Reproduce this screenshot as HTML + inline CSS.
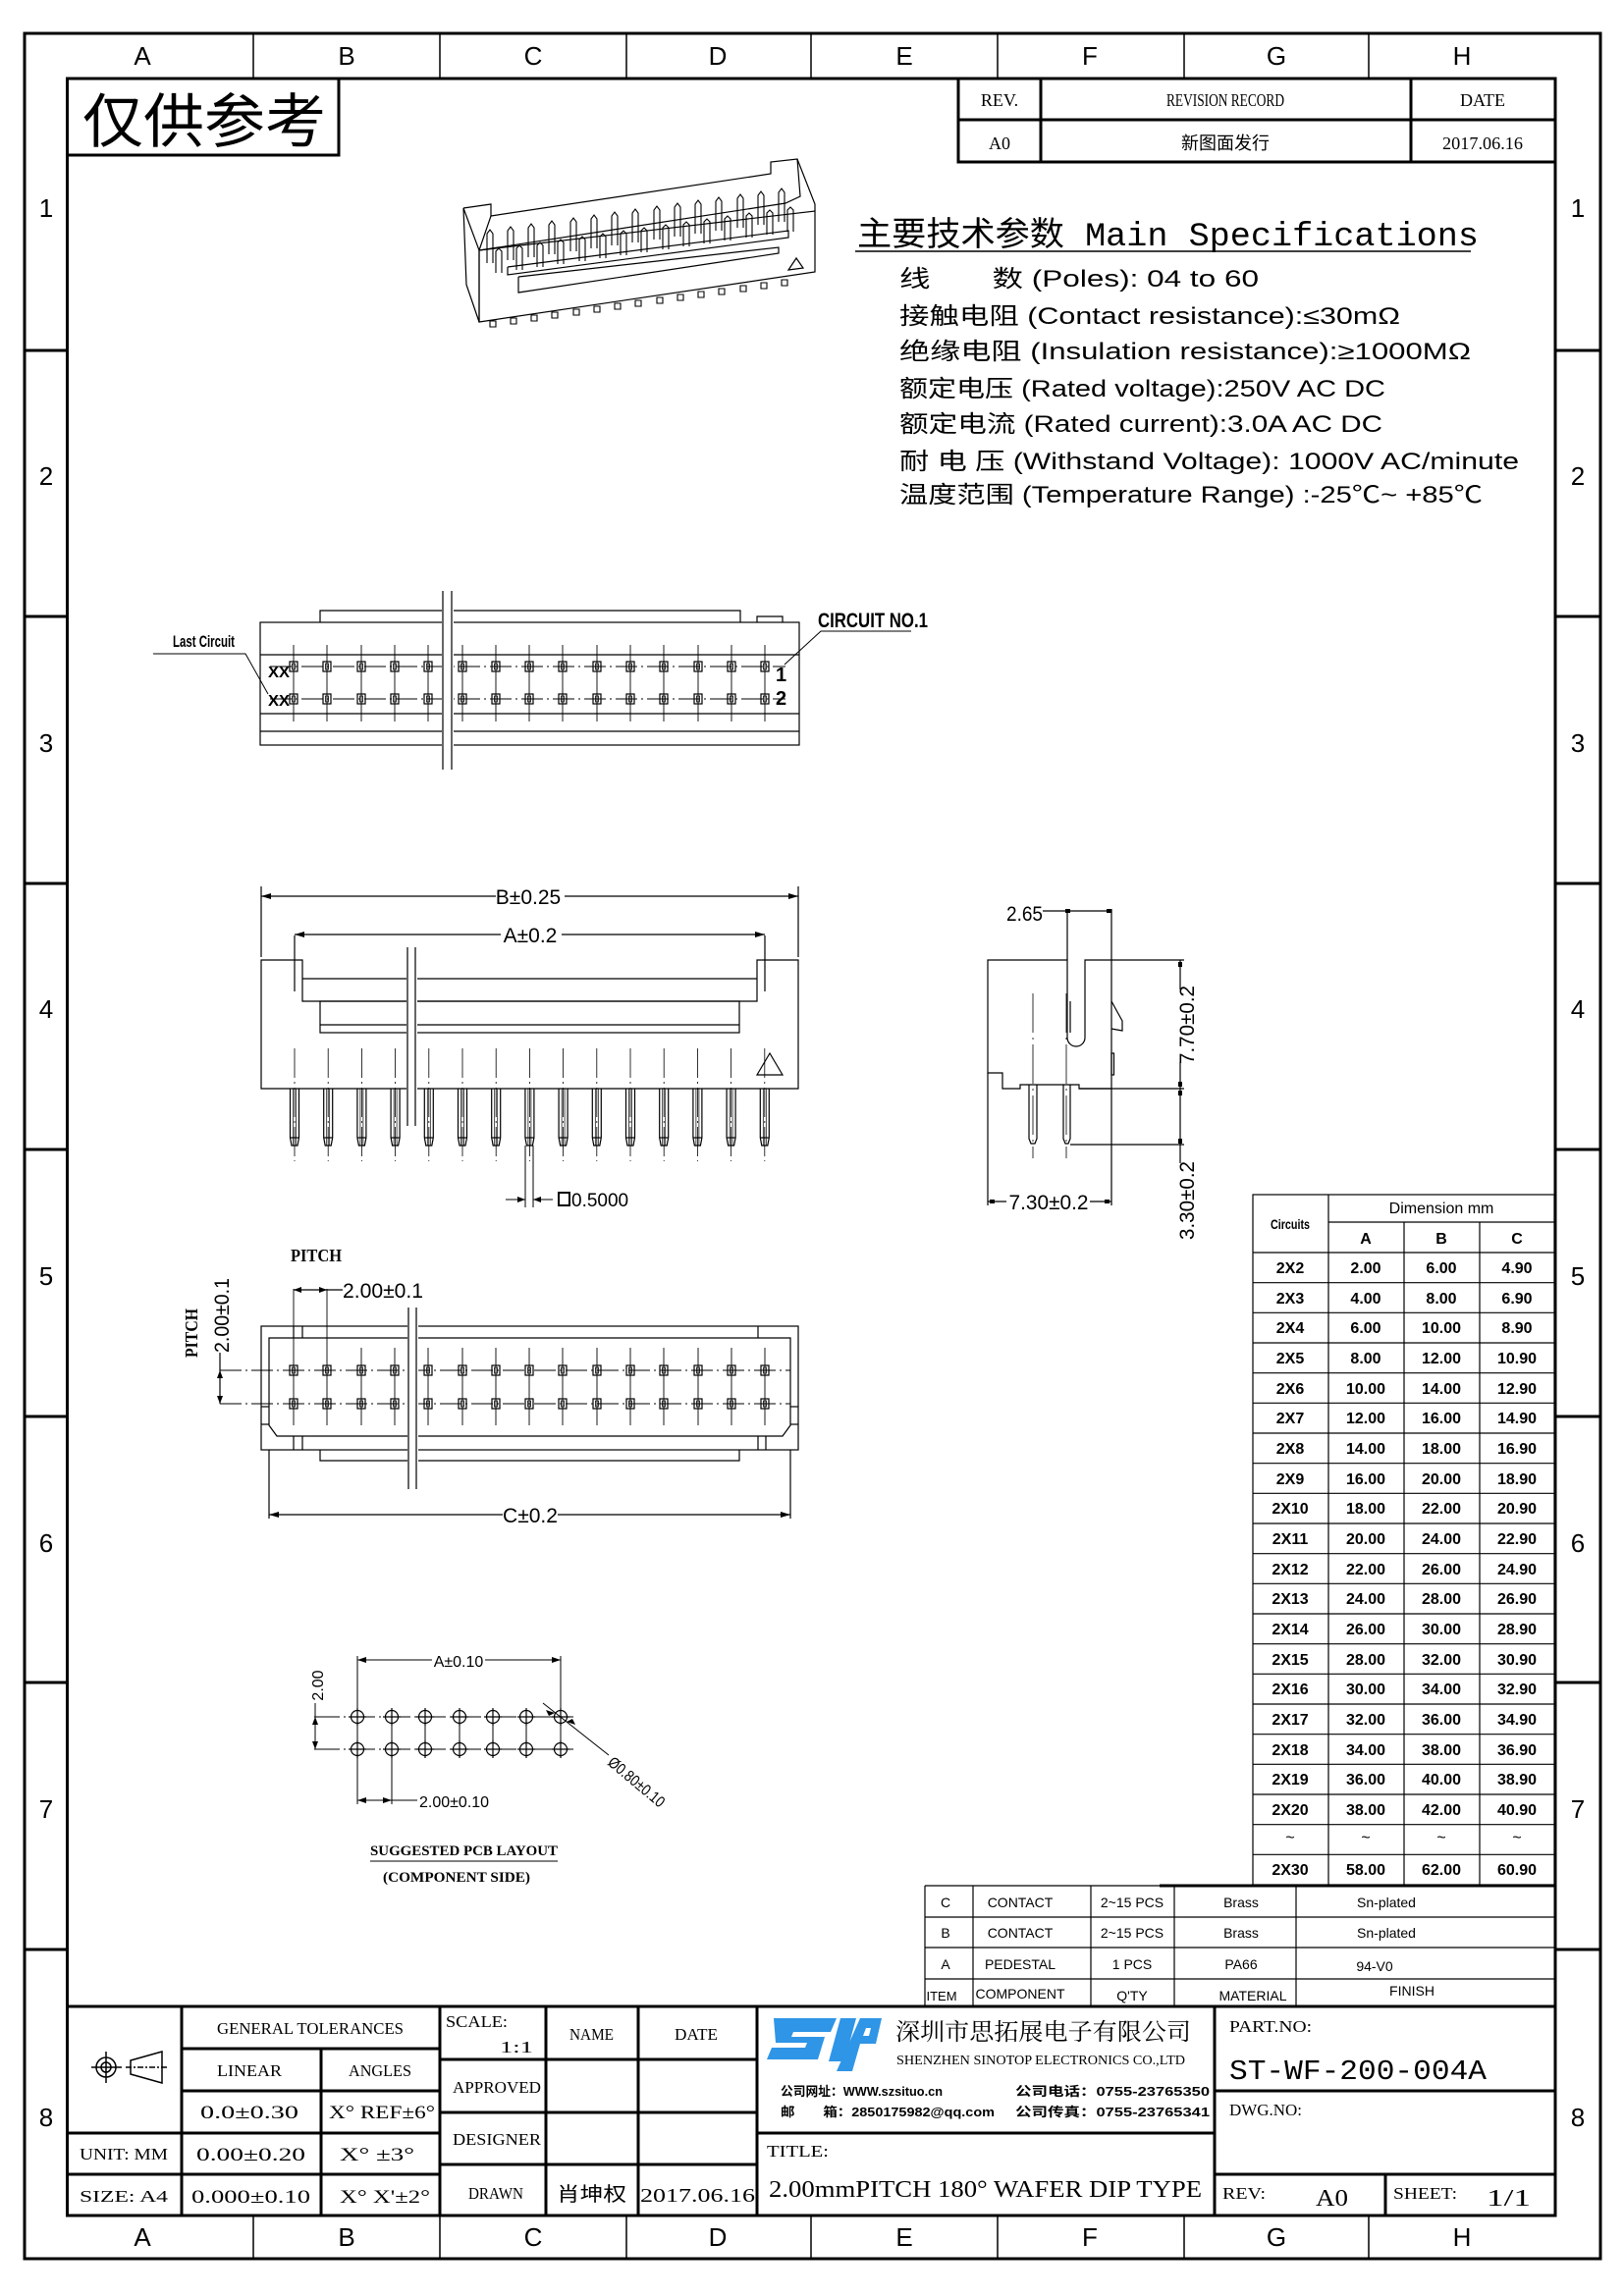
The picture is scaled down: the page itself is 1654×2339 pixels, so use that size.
<!DOCTYPE html>
<html><head><meta charset="utf-8"><style>
html,body{margin:0;padding:0;background:#fff;}
svg{display:block;}
text{font-family:"Liberation Sans Narrow","Liberation Sans","Noto Sans CJK SC",sans-serif;fill:#000;}
.s,.s text{font-family:"Liberation Serif","Noto Serif CJK SC","Noto Sans CJK SC",serif;}
.b,.b text{font-weight:bold;}
</style></head><body>
<svg width="1654" height="2339" viewBox="0 0 1654 2339" xmlns="http://www.w3.org/2000/svg">
<defs>
<g id="tp"><rect x="-4" y="-5" width="8" height="10" fill="none" stroke="#000" stroke-width="1.2"/><rect x="-1.5" y="-3" width="3" height="6" fill="none" stroke="#000" stroke-width="0.8"/></g>
<g id="fp" fill="none" stroke="#000" stroke-width="1.2"><path d="M-4.5,0 V50 L-3,58 H3 L4.5,50 V0"/><line x1="-4.5" y1="50" x2="4.5" y2="50"/><line x1="-1.5" y1="0" x2="-1.5" y2="58" stroke-width="0.7"/><line x1="1.5" y1="0" x2="1.5" y2="58" stroke-width="0.7"/><line x1="0" y1="-41" x2="0" y2="74" stroke-width="0.8" stroke-dasharray="30,4,2,4"/></g>
<g id="hole" fill="none" stroke="#000" stroke-width="1.2"><circle r="6.5"/><line x1="-9" y1="0" x2="9" y2="0"/><line x1="0" y1="-9" x2="0" y2="9"/></g>
<g id="isop" fill="none" stroke="#000" stroke-width="1.1"><path d="M-3,0 V-30 L0,-34 L3,-30 V0"/><path d="M6,10 V-12 L9,-15 L12,-12 V10"/></g>
<g id="isot" fill="none" stroke="#000" stroke-width="1.1"><path d="M-3,0 V6 H3 V0 Z"/></g>
</defs>

<rect x="25" y="34" width="1605" height="2267" fill="none" stroke="#000" stroke-width="3"/>
<rect x="68.5" y="80" width="1515.5" height="2177" fill="none" stroke="#000" stroke-width="3"/>
<g stroke="#000" stroke-width="1.5">
<line x1="258" y1="34" x2="258" y2="80"/><line x1="448" y1="34" x2="448" y2="80"/><line x1="638" y1="34" x2="638" y2="80"/><line x1="826" y1="34" x2="826" y2="80"/><line x1="1016" y1="34" x2="1016" y2="80"/><line x1="1206" y1="34" x2="1206" y2="80"/><line x1="1394" y1="34" x2="1394" y2="80"/>
<line x1="258" y1="2257" x2="258" y2="2301"/><line x1="448" y1="2257" x2="448" y2="2301"/><line x1="638" y1="2257" x2="638" y2="2301"/><line x1="826" y1="2257" x2="826" y2="2301"/><line x1="1016" y1="2257" x2="1016" y2="2301"/><line x1="1206" y1="2257" x2="1206" y2="2301"/><line x1="1394" y1="2257" x2="1394" y2="2301"/>
</g>
<g stroke="#000" stroke-width="3">
<line x1="25" y1="357" x2="68" y2="357"/><line x1="25" y1="628" x2="68" y2="628"/><line x1="25" y1="900" x2="68" y2="900"/><line x1="25" y1="1171" x2="68" y2="1171"/><line x1="25" y1="1443" x2="68" y2="1443"/><line x1="25" y1="1714" x2="68" y2="1714"/><line x1="25" y1="1986" x2="68" y2="1986"/>
<line x1="1584" y1="357" x2="1630" y2="357"/><line x1="1584" y1="628" x2="1630" y2="628"/><line x1="1584" y1="900" x2="1630" y2="900"/><line x1="1584" y1="1171" x2="1630" y2="1171"/><line x1="1584" y1="1443" x2="1630" y2="1443"/><line x1="1584" y1="1714" x2="1630" y2="1714"/><line x1="1584" y1="1986" x2="1630" y2="1986"/>
</g>
<g font-size="26" text-anchor="middle">
<text x="145" y="66">A</text><text x="353" y="66">B</text><text x="543" y="66">C</text><text x="731" y="66">D</text><text x="921" y="66">E</text><text x="1110" y="66">F</text><text x="1300" y="66">G</text><text x="1489" y="66">H</text>
<text x="145" y="2288">A</text><text x="353" y="2288">B</text><text x="543" y="2288">C</text><text x="731" y="2288">D</text><text x="921" y="2288">E</text><text x="1110" y="2288">F</text><text x="1300" y="2288">G</text><text x="1489" y="2288">H</text>
<text x="47" y="221">1</text><text x="47" y="494">2</text><text x="47" y="766">3</text><text x="47" y="1037">4</text><text x="47" y="1309">5</text><text x="47" y="1581">6</text><text x="47" y="1852">7</text><text x="47" y="2166">8</text>
<text x="1607" y="221">1</text><text x="1607" y="494">2</text><text x="1607" y="766">3</text><text x="1607" y="1037">4</text><text x="1607" y="1309">5</text><text x="1607" y="1581">6</text><text x="1607" y="1852">7</text><text x="1607" y="2166">8</text>
</g>

<rect x="68.5" y="80" width="276.5" height="78" fill="none" stroke="#000" stroke-width="3"/>
<text x="84" y="145" font-size="60" textLength="248" lengthAdjust="spacingAndGlyphs" style="font-family:'Noto Sans CJK SC',sans-serif">仅供参考</text>

<g stroke="#000" stroke-width="3" fill="none">
<polyline points="976,80 976,165 1584,165"/>
<line x1="976" y1="122" x2="1584" y2="122"/>
<line x1="1060" y1="80" x2="1060" y2="165"/>
<line x1="1437" y1="80" x2="1437" y2="165"/>
</g>
<g class="s" font-size="18" text-anchor="middle">
<text x="1018" y="108">REV.</text>
<text x="1248" y="108" textLength="120" lengthAdjust="spacingAndGlyphs">REVISION RECORD</text>
<text x="1510" y="108">DATE</text>
<text x="1018" y="152">A0</text>
<text x="1248" y="152" style="font-family:'Noto Sans CJK SC',sans-serif">新图面发行</text>
<text x="1510" y="152" textLength="82" lengthAdjust="spacingAndGlyphs">2017.06.16</text>
</g>

<g fill="none" stroke="#000" stroke-width="1.2">
<polygon points="472,212 488,255 488,328 475,290"/>
<polygon points="488,255 830,215 830,277 488,328"/>
<polyline points="472,212 500,208 500,220 785,177 785,165 812,162 830,208 830,215"/>
<polyline points="812,162 815,200 800,207 488,255"/>
<line x1="500" y1="220" x2="488" y2="255"/>
<polyline points="517,272 803,235 803,242 517,280 517,272"/>
<polyline points="528,282 793,252 793,258 528,298 528,282"/>
<polygon points="803,275 818,273 811,263"/>
</g>
<g>
<use href="#isop" x="499" y="268"/><use href="#isop" x="520" y="265"/><use href="#isop" x="541" y="262"/><use href="#isop" x="562" y="259"/><use href="#isop" x="584" y="256"/><use href="#isop" x="605" y="253"/><use href="#isop" x="626" y="250"/><use href="#isop" x="647" y="247"/><use href="#isop" x="669" y="244"/><use href="#isop" x="690" y="241"/><use href="#isop" x="711" y="238"/><use href="#isop" x="732" y="235"/><use href="#isop" x="754" y="232"/><use href="#isop" x="775" y="229"/><use href="#isop" x="796" y="226"/>
<use href="#isot" x="502" y="327"/><use href="#isot" x="523" y="324"/><use href="#isot" x="544" y="321"/><use href="#isot" x="565" y="318"/><use href="#isot" x="587" y="315"/><use href="#isot" x="608" y="312"/><use href="#isot" x="629" y="309"/><use href="#isot" x="650" y="306"/><use href="#isot" x="672" y="303"/><use href="#isot" x="693" y="300"/><use href="#isot" x="714" y="297"/><use href="#isot" x="735" y="294"/><use href="#isot" x="757" y="291"/><use href="#isot" x="778" y="288"/><use href="#isot" x="799" y="285"/>
</g>

<text x="873" y="250" font-size="34" textLength="633" lengthAdjust="spacingAndGlyphs" style="font-family:'Liberation Mono','Noto Sans CJK SC',monospace">主要技术参数 Main Specifications</text>
<line x1="871" y1="256" x2="1498" y2="256" stroke="#000" stroke-width="1.5"/>
<g font-size="24" style="font-family:'Liberation Mono','Noto Sans CJK SC',monospace">
<text x="916" y="292" textLength="366" lengthAdjust="spacingAndGlyphs">线　　数 (Poles): 04 to 60</text>
<text x="916" y="330" textLength="510" lengthAdjust="spacingAndGlyphs">接触电阻 (Contact resistance):≤30mΩ</text>
<text x="916" y="366" textLength="582" lengthAdjust="spacingAndGlyphs">绝缘电阻 (Insulation resistance):≥1000MΩ</text>
<text x="916" y="404" textLength="495" lengthAdjust="spacingAndGlyphs">额定电压 (Rated voltage):250V AC DC</text>
<text x="916" y="440" textLength="492" lengthAdjust="spacingAndGlyphs">额定电流 (Rated current):3.0A AC DC</text>
<text x="916" y="478" textLength="631" lengthAdjust="spacingAndGlyphs">耐 电 压 (Withstand Voltage): 1000V AC/minute</text>
<text x="916" y="512" textLength="594" lengthAdjust="spacingAndGlyphs">温度范围 (Temperature Range) :-25℃~ +85℃</text>
</g>

<!-- TOP VIEW -->
<g fill="none" stroke="#000" stroke-width="1.2">
<rect x="265" y="634" width="549" height="125"/>
<polyline points="326,634 326,622 754,622 754,634"/>
<polyline points="771,634 771,628 797,628 797,634"/>
<line x1="265" y1="667" x2="814" y2="667"/>
<line x1="265" y1="727" x2="814" y2="727"/>
<line x1="265" y1="745" x2="814" y2="745"/>
<g stroke-width="0.9">
<line x1="275" y1="679" x2="800" y2="679" stroke-dasharray="22,4,2,4"/>
<line x1="275" y1="712" x2="800" y2="712" stroke-dasharray="22,4,2,4"/>
<line x1="299" y1="657" x2="299" y2="735"/><line x1="333" y1="657" x2="333" y2="735"/><line x1="368" y1="657" x2="368" y2="735"/><line x1="402" y1="657" x2="402" y2="735"/><line x1="436" y1="657" x2="436" y2="735"/><line x1="471" y1="657" x2="471" y2="735"/><line x1="505" y1="657" x2="505" y2="735"/><line x1="539" y1="657" x2="539" y2="735"/><line x1="573" y1="657" x2="573" y2="735"/><line x1="608" y1="657" x2="608" y2="735"/><line x1="642" y1="657" x2="642" y2="735"/><line x1="676" y1="657" x2="676" y2="735"/><line x1="711" y1="657" x2="711" y2="735"/><line x1="745" y1="657" x2="745" y2="735"/><line x1="779" y1="657" x2="779" y2="735"/>
</g>
</g>
<rect x="450" y="600" width="12" height="186" fill="#fff"/>
<g stroke="#000" stroke-width="1.2"><line x1="451" y1="602" x2="451" y2="784"/><line x1="460" y1="602" x2="460" y2="784"/></g>
<g>
<use href="#tp" x="299" y="679"/><use href="#tp" x="333" y="679"/><use href="#tp" x="368" y="679"/><use href="#tp" x="402" y="679"/><use href="#tp" x="436" y="679"/><use href="#tp" x="471" y="679"/><use href="#tp" x="505" y="679"/><use href="#tp" x="539" y="679"/><use href="#tp" x="573" y="679"/><use href="#tp" x="608" y="679"/><use href="#tp" x="642" y="679"/><use href="#tp" x="676" y="679"/><use href="#tp" x="711" y="679"/><use href="#tp" x="745" y="679"/><use href="#tp" x="779" y="679"/>
<use href="#tp" x="299" y="712"/><use href="#tp" x="333" y="712"/><use href="#tp" x="368" y="712"/><use href="#tp" x="402" y="712"/><use href="#tp" x="436" y="712"/><use href="#tp" x="471" y="712"/><use href="#tp" x="505" y="712"/><use href="#tp" x="539" y="712"/><use href="#tp" x="573" y="712"/><use href="#tp" x="608" y="712"/><use href="#tp" x="642" y="712"/><use href="#tp" x="676" y="712"/><use href="#tp" x="711" y="712"/><use href="#tp" x="745" y="712"/><use href="#tp" x="779" y="712"/>
</g>
<g font-size="16" class="b">
<text x="273" y="690" textLength="22" lengthAdjust="spacingAndGlyphs">XX</text>
<text x="273" y="719" textLength="22" lengthAdjust="spacingAndGlyphs">XX</text>
<text x="790" y="694" font-size="20">1</text>
<text x="790" y="718" font-size="20">2</text>
<text x="176" y="659" font-size="17" textLength="63" lengthAdjust="spacingAndGlyphs">Last Circuit</text>
<text x="833" y="639" font-size="21" textLength="112" lengthAdjust="spacingAndGlyphs">CIRCUIT NO.1</text>
</g>
<g fill="none" stroke="#000" stroke-width="1">
<polyline points="156,666 250,666 273,707"/>
<polyline points="928,643 836,643 799,677"/>
</g>

<!-- FRONT VIEW -->
<g fill="none" stroke="#000" stroke-width="1.2">
<line x1="266" y1="903" x2="266" y2="975"/><line x1="813" y1="903" x2="813" y2="975"/>
<line x1="266" y1="913" x2="505" y2="913"/><line x1="575" y1="913" x2="813" y2="913"/>
<line x1="300" y1="953" x2="300" y2="1010"/><line x1="779" y1="953" x2="779" y2="1010"/>
<line x1="300" y1="952" x2="510" y2="952"/><line x1="572" y1="952" x2="779" y2="952"/>
<polygon points="266,978 308,978 308,1020 771,1020 771,978 813,978 813,1109 266,1109"/>
<line x1="308" y1="997" x2="771" y2="997"/>
<rect x="326" y="1020" width="427" height="32"/>
<line x1="326" y1="1044" x2="753" y2="1044"/>
<polygon points="771,1095 797,1095 784,1073"/>
</g>
<g fill="#000"><path d="M266,913 l10,-3 v6z"/><path d="M813,913 l-10,-3 v6z"/><path d="M300,952 l10,-3 v6z"/><path d="M779,952 l-10,-3 v6z"/></g>
<text x="538" y="921" font-size="21" text-anchor="middle">B±0.25</text>
<text x="540" y="960" font-size="21" text-anchor="middle">A±0.2</text>
<g>
<use href="#fp" x="300" y="1109"/><use href="#fp" x="334.2" y="1109"/><use href="#fp" x="368.4" y="1109"/><use href="#fp" x="402.6" y="1109"/><use href="#fp" x="436.8" y="1109"/><use href="#fp" x="471" y="1109"/><use href="#fp" x="505.2" y="1109"/><use href="#fp" x="539.4" y="1109"/><use href="#fp" x="573.6" y="1109"/><use href="#fp" x="607.8" y="1109"/><use href="#fp" x="642" y="1109"/><use href="#fp" x="676.2" y="1109"/><use href="#fp" x="710.4" y="1109"/><use href="#fp" x="744.6" y="1109"/><use href="#fp" x="778.8" y="1109"/>
</g>
<rect x="414" y="964" width="11" height="185" fill="#fff"/>
<g stroke="#000" stroke-width="1.2"><line x1="415" y1="965" x2="415" y2="1147"/><line x1="423" y1="965" x2="423" y2="1147"/></g>
<g stroke="#000" stroke-width="1"><line x1="535" y1="1167" x2="535" y2="1230"/><line x1="543" y1="1167" x2="543" y2="1230"/><line x1="515" y1="1222" x2="535" y2="1222"/><line x1="543" y1="1222" x2="563" y2="1222"/></g>
<g fill="#000"><path d="M535,1222 l-8,-3 v6z"/><path d="M543,1222 l8,-3 v6z"/></g>
<rect x="569" y="1215" width="11" height="13" fill="none" stroke="#000" stroke-width="2"/>
<text x="582" y="1229" font-size="19">0.5000</text>

<!-- SIDE VIEW -->
<g fill="none" stroke="#000" stroke-width="1.2">
<path d="M1006,978 H1087 V1057 A9,9 0 0 0 1105,1057 V978 H1132 V1109 H1099 V1105 H1039 V1109 H1021 V1093 H1006 Z"/>
<line x1="1090" y1="1020" x2="1090" y2="1052"/>
<polyline points="1132,1020 1143,1040 1143,1050 1132,1048"/>
<rect x="1132" y="1073" width="2.5" height="22"/>
<path d="M1048,1105 V1160 L1050,1165 H1054 L1056,1160 V1105"/>
<path d="M1083,1105 V1160 L1085,1165 H1088 L1090,1160 V1105"/>
<line x1="1052" y1="1012" x2="1052" y2="1180" stroke-width="0.8" stroke-dasharray="40,5,2,5"/>
<line x1="1086" y1="1012" x2="1086" y2="1180" stroke-width="0.8" stroke-dasharray="40,5,2,5"/>
<line x1="1087" y1="926" x2="1087" y2="978"/><line x1="1132" y1="926" x2="1132" y2="978"/>
<line x1="1062" y1="928" x2="1132" y2="928"/>
<line x1="1132" y1="978" x2="1206" y2="978"/>
<line x1="1099" y1="1109" x2="1206" y2="1109"/>
<line x1="1090" y1="1166" x2="1206" y2="1166"/>
<line x1="1202" y1="978" x2="1202" y2="1008"/><line x1="1202" y1="1082" x2="1202" y2="1185"/>
<line x1="1006" y1="1093" x2="1006" y2="1228"/><line x1="1132" y1="1109" x2="1132" y2="1228"/>
<line x1="1006" y1="1224" x2="1025" y2="1224"/><line x1="1110" y1="1224" x2="1132" y2="1224"/>
</g>
<g fill="#000"><rect x="1085" y="926" width="5" height="4"/><rect x="1127" y="926" width="5" height="4"/><rect x="1200" y="980" width="4" height="5"/><rect x="1200" y="1102" width="4" height="5"/><rect x="1200" y="1111" width="4" height="5"/><rect x="1200" y="1160" width="4" height="5"/><rect x="1008" y="1222" width="5" height="4"/><rect x="1125" y="1222" width="5" height="4"/></g>
<text x="1025" y="938" font-size="21" textLength="37" lengthAdjust="spacingAndGlyphs">2.65</text>
<text x="1068" y="1232" font-size="21" text-anchor="middle" textLength="81" lengthAdjust="spacingAndGlyphs">7.30±0.2</text>
<text transform="translate(1216,1044) rotate(-90)" font-size="21" text-anchor="middle" textLength="80" lengthAdjust="spacingAndGlyphs">7.70±0.2</text>
<text transform="translate(1216,1223) rotate(-90)" font-size="21" text-anchor="middle" textLength="80" lengthAdjust="spacingAndGlyphs">3.30±0.2</text>

<!-- BOTTOM VIEW -->
<g fill="none" stroke="#000" stroke-width="1.2">
<rect x="266" y="1351" width="547" height="126"/>
<path d="M274,1363 H805 V1452 L797,1463 H282 L274,1452 Z"/>
<line x1="299" y1="1351" x2="299" y2="1363"/><line x1="308" y1="1351" x2="308" y2="1363"/>
<line x1="772" y1="1351" x2="772" y2="1363"/>
<line x1="299" y1="1463" x2="299" y2="1477"/><line x1="308" y1="1463" x2="308" y2="1477"/>
<line x1="772" y1="1463" x2="772" y2="1477"/><line x1="780" y1="1463" x2="780" y2="1477"/>
<polyline points="326,1477 326,1488 753,1488 753,1477"/>
<line x1="266" y1="1433" x2="274" y2="1433"/><line x1="266" y1="1451" x2="274" y2="1451"/>
<line x1="805" y1="1433" x2="813" y2="1433"/><line x1="805" y1="1451" x2="813" y2="1451"/>
<g stroke-width="0.9">
<line x1="224" y1="1396" x2="805" y2="1396" stroke-dasharray="22,4,2,4"/>
<line x1="224" y1="1430" x2="805" y2="1430" stroke-dasharray="22,4,2,4"/>
<line x1="299" y1="1313" x2="299" y2="1452"/><line x1="333" y1="1313" x2="333" y2="1452"/><line x1="368" y1="1373" x2="368" y2="1452"/><line x1="402" y1="1373" x2="402" y2="1452"/><line x1="436" y1="1373" x2="436" y2="1452"/><line x1="471" y1="1373" x2="471" y2="1452"/><line x1="505" y1="1373" x2="505" y2="1452"/><line x1="539" y1="1373" x2="539" y2="1452"/><line x1="573" y1="1373" x2="573" y2="1452"/><line x1="608" y1="1373" x2="608" y2="1452"/><line x1="642" y1="1373" x2="642" y2="1452"/><line x1="676" y1="1373" x2="676" y2="1452"/><line x1="711" y1="1373" x2="711" y2="1452"/><line x1="745" y1="1373" x2="745" y2="1452"/><line x1="779" y1="1373" x2="779" y2="1452"/>
</g>
<line x1="299" y1="1314" x2="349" y2="1314"/>
<line x1="224" y1="1378" x2="224" y2="1430"/>
<line x1="274" y1="1477" x2="274" y2="1547"/><line x1="805" y1="1477" x2="805" y2="1547"/>
<line x1="274" y1="1543" x2="512" y2="1543"/><line x1="568" y1="1543" x2="805" y2="1543"/>
</g>
<g fill="#000"><path d="M299,1314 l8,-3 v6z"/><path d="M333,1314 l-8,-3 v6z"/><path d="M224,1396 l-3,8 h6z"/><path d="M224,1430 l-3,-8 h6z"/><path d="M274,1543 l10,-3 v6z"/><path d="M805,1543 l-10,-3 v6z"/></g>
<g>
<use href="#tp" x="299" y="1396"/><use href="#tp" x="333" y="1396"/><use href="#tp" x="368" y="1396"/><use href="#tp" x="402" y="1396"/><use href="#tp" x="436" y="1396"/><use href="#tp" x="471" y="1396"/><use href="#tp" x="505" y="1396"/><use href="#tp" x="539" y="1396"/><use href="#tp" x="573" y="1396"/><use href="#tp" x="608" y="1396"/><use href="#tp" x="642" y="1396"/><use href="#tp" x="676" y="1396"/><use href="#tp" x="711" y="1396"/><use href="#tp" x="745" y="1396"/><use href="#tp" x="779" y="1396"/>
<use href="#tp" x="299" y="1430"/><use href="#tp" x="333" y="1430"/><use href="#tp" x="368" y="1430"/><use href="#tp" x="402" y="1430"/><use href="#tp" x="436" y="1430"/><use href="#tp" x="471" y="1430"/><use href="#tp" x="505" y="1430"/><use href="#tp" x="539" y="1430"/><use href="#tp" x="573" y="1430"/><use href="#tp" x="608" y="1430"/><use href="#tp" x="642" y="1430"/><use href="#tp" x="676" y="1430"/><use href="#tp" x="711" y="1430"/><use href="#tp" x="745" y="1430"/><use href="#tp" x="779" y="1430"/>
</g>
<rect x="415" y="1330" width="11" height="188" fill="#fff"/>
<g stroke="#000" stroke-width="1.2"><line x1="416" y1="1332" x2="416" y2="1517"/><line x1="424" y1="1332" x2="424" y2="1517"/></g>
<text x="296" y="1285" font-size="18" class="s b" textLength="52" lengthAdjust="spacingAndGlyphs">PITCH</text>
<text x="349" y="1322" font-size="21" textLength="82" lengthAdjust="spacingAndGlyphs">2.00±0.1</text>
<text transform="translate(233,1340) rotate(-90)" font-size="21" text-anchor="middle" textLength="76" lengthAdjust="spacingAndGlyphs">2.00±0.1</text>
<text transform="translate(201,1358) rotate(-90)" font-size="18" class="s b" text-anchor="middle" textLength="50" lengthAdjust="spacingAndGlyphs">PITCH</text>
<text x="540" y="1551" font-size="21" text-anchor="middle">C±0.2</text>

<!-- PCB LAYOUT -->
<g fill="none" stroke="#000" stroke-width="1">
<line x1="320" y1="1749" x2="584" y2="1749" stroke-dasharray="26,4,2,4"/>
<line x1="320" y1="1782" x2="584" y2="1782" stroke-dasharray="26,4,2,4"/>
<line x1="364" y1="1687" x2="364" y2="1838"/><line x1="399" y1="1740" x2="399" y2="1838"/><line x1="433" y1="1740" x2="433" y2="1790"/><line x1="468" y1="1740" x2="468" y2="1790"/><line x1="502" y1="1740" x2="502" y2="1790"/><line x1="536" y1="1740" x2="536" y2="1790"/><line x1="571" y1="1687" x2="571" y2="1790"/>
<line x1="364" y1="1691" x2="440" y2="1691"/><line x1="494" y1="1691" x2="571" y2="1691"/>
<line x1="321" y1="1735" x2="321" y2="1782"/>
<line x1="364" y1="1834" x2="425" y2="1834"/>
<line x1="553" y1="1735" x2="620" y2="1788"/>
</g>
<g fill="#000"><path d="M364,1691 l9,-3 v6z"/><path d="M571,1691 l-9,-3 v6z"/><path d="M321,1749 l-3,8 h6z"/><path d="M321,1782 l-3,-8 h6z"/><path d="M364,1834 l9,-3 v6z"/><path d="M399,1834 l-9,-3 v6z"/><path d="M565,1745 l-9,-3 l3,6z"/><path d="M577,1754 l9,3 l-3,-6z"/></g>
<g>
<use href="#hole" x="364" y="1749"/><use href="#hole" x="399" y="1749"/><use href="#hole" x="433" y="1749"/><use href="#hole" x="468" y="1749"/><use href="#hole" x="502" y="1749"/><use href="#hole" x="536" y="1749"/><use href="#hole" x="571" y="1749"/>
<use href="#hole" x="364" y="1782"/><use href="#hole" x="399" y="1782"/><use href="#hole" x="433" y="1782"/><use href="#hole" x="468" y="1782"/><use href="#hole" x="502" y="1782"/><use href="#hole" x="536" y="1782"/><use href="#hole" x="571" y="1782"/>
</g>
<text x="467" y="1698" font-size="16" text-anchor="middle">A±0.10</text>
<text transform="translate(329,1717) rotate(-90)" font-size="16" text-anchor="middle">2.00</text>
<text x="427" y="1841" font-size="16">2.00±0.10</text>
<text transform="translate(618,1797) rotate(40)" font-size="16" textLength="70" lengthAdjust="spacingAndGlyphs">Ø0.80±0.10</text>
<text x="377" y="1890" font-size="15" class="s b" textLength="191" lengthAdjust="spacingAndGlyphs">SUGGESTED PCB LAYOUT</text>
<line x1="377" y1="1896" x2="568" y2="1896" stroke="#000" stroke-width="1"/>
<text x="390" y="1917" font-size="15" class="s b" textLength="150" lengthAdjust="spacingAndGlyphs">(COMPONENT SIDE)</text>

<!-- DIMENSION TABLE -->
<g fill="none" stroke="#000" stroke-width="1.2">
<rect x="1276" y="1217" width="307" height="703"/>
<line x1="1353" y1="1217" x2="1353" y2="1920"/>
<line x1="1353" y1="1245" x2="1583" y2="1245"/>
<line x1="1430" y1="1245" x2="1430" y2="1920"/>
<line x1="1507" y1="1245" x2="1507" y2="1920"/>
<line x1="1276" y1="1276" x2="1583" y2="1276"/>
<line x1="1276" y1="1306.7" x2="1583" y2="1306.7"/><line x1="1276" y1="1337.3" x2="1583" y2="1337.3"/><line x1="1276" y1="1368" x2="1583" y2="1368"/><line x1="1276" y1="1398.7" x2="1583" y2="1398.7"/><line x1="1276" y1="1429.3" x2="1583" y2="1429.3"/><line x1="1276" y1="1460" x2="1583" y2="1460"/><line x1="1276" y1="1490.7" x2="1583" y2="1490.7"/><line x1="1276" y1="1521.3" x2="1583" y2="1521.3"/><line x1="1276" y1="1552" x2="1583" y2="1552"/><line x1="1276" y1="1582.7" x2="1583" y2="1582.7"/><line x1="1276" y1="1613.3" x2="1583" y2="1613.3"/><line x1="1276" y1="1644" x2="1583" y2="1644"/><line x1="1276" y1="1674.7" x2="1583" y2="1674.7"/><line x1="1276" y1="1705.3" x2="1583" y2="1705.3"/><line x1="1276" y1="1736" x2="1583" y2="1736"/><line x1="1276" y1="1766.7" x2="1583" y2="1766.7"/><line x1="1276" y1="1797.3" x2="1583" y2="1797.3"/><line x1="1276" y1="1828" x2="1583" y2="1828"/><line x1="1276" y1="1858.7" x2="1583" y2="1858.7"/><line x1="1276" y1="1889.3" x2="1583" y2="1889.3"/>
</g>
<g font-size="16" text-anchor="middle" font-weight="bold">
<text x="1468" y="1236" font-weight="normal" font-size="16">Dimension mm</text>
<text x="1314" y="1252" font-size="14" textLength="40" lengthAdjust="spacingAndGlyphs">Circuits</text>
<text x="1391" y="1267">A</text><text x="1468" y="1267">B</text><text x="1545" y="1267">C</text>
<text x="1314" y="1297">2X2</text><text x="1391" y="1297">2.00</text><text x="1468" y="1297">6.00</text><text x="1545" y="1297">4.90</text>
<text x="1314" y="1328">2X3</text><text x="1391" y="1328">4.00</text><text x="1468" y="1328">8.00</text><text x="1545" y="1328">6.90</text>
<text x="1314" y="1358">2X4</text><text x="1391" y="1358">6.00</text><text x="1468" y="1358">10.00</text><text x="1545" y="1358">8.90</text>
<text x="1314" y="1389">2X5</text><text x="1391" y="1389">8.00</text><text x="1468" y="1389">12.00</text><text x="1545" y="1389">10.90</text>
<text x="1314" y="1420">2X6</text><text x="1391" y="1420">10.00</text><text x="1468" y="1420">14.00</text><text x="1545" y="1420">12.90</text>
<text x="1314" y="1450">2X7</text><text x="1391" y="1450">12.00</text><text x="1468" y="1450">16.00</text><text x="1545" y="1450">14.90</text>
<text x="1314" y="1481">2X8</text><text x="1391" y="1481">14.00</text><text x="1468" y="1481">18.00</text><text x="1545" y="1481">16.90</text>
<text x="1314" y="1512">2X9</text><text x="1391" y="1512">16.00</text><text x="1468" y="1512">20.00</text><text x="1545" y="1512">18.90</text>
<text x="1314" y="1542">2X10</text><text x="1391" y="1542">18.00</text><text x="1468" y="1542">22.00</text><text x="1545" y="1542">20.90</text>
<text x="1314" y="1573">2X11</text><text x="1391" y="1573">20.00</text><text x="1468" y="1573">24.00</text><text x="1545" y="1573">22.90</text>
<text x="1314" y="1604">2X12</text><text x="1391" y="1604">22.00</text><text x="1468" y="1604">26.00</text><text x="1545" y="1604">24.90</text>
<text x="1314" y="1634">2X13</text><text x="1391" y="1634">24.00</text><text x="1468" y="1634">28.00</text><text x="1545" y="1634">26.90</text>
<text x="1314" y="1665">2X14</text><text x="1391" y="1665">26.00</text><text x="1468" y="1665">30.00</text><text x="1545" y="1665">28.90</text>
<text x="1314" y="1696">2X15</text><text x="1391" y="1696">28.00</text><text x="1468" y="1696">32.00</text><text x="1545" y="1696">30.90</text>
<text x="1314" y="1726">2X16</text><text x="1391" y="1726">30.00</text><text x="1468" y="1726">34.00</text><text x="1545" y="1726">32.90</text>
<text x="1314" y="1757">2X17</text><text x="1391" y="1757">32.00</text><text x="1468" y="1757">36.00</text><text x="1545" y="1757">34.90</text>
<text x="1314" y="1788">2X18</text><text x="1391" y="1788">34.00</text><text x="1468" y="1788">38.00</text><text x="1545" y="1788">36.90</text>
<text x="1314" y="1818">2X19</text><text x="1391" y="1818">36.00</text><text x="1468" y="1818">40.00</text><text x="1545" y="1818">38.90</text>
<text x="1314" y="1849">2X20</text><text x="1391" y="1849">38.00</text><text x="1468" y="1849">42.00</text><text x="1545" y="1849">40.90</text>
<text x="1314" y="1877" font-weight="normal">~</text><text x="1391" y="1877" font-weight="normal">~</text><text x="1468" y="1877" font-weight="normal">~</text><text x="1545" y="1877" font-weight="normal">~</text>
<text x="1314" y="1910">2X30</text><text x="1391" y="1910">58.00</text><text x="1468" y="1910">62.00</text><text x="1545" y="1910">60.90</text>
</g>

<!-- BOM -->
<g fill="none" stroke="#000" stroke-width="1.2">
<line x1="942" y1="1921" x2="1181" y2="1921"/>
<line x1="942" y1="1921" x2="942" y2="2045"/>
<line x1="942" y1="1953" x2="1584" y2="1953"/>
<line x1="942" y1="1984" x2="1584" y2="1984"/>
<line x1="942" y1="2016" x2="1584" y2="2016"/>
<line x1="991" y1="1921" x2="991" y2="2045"/>
<line x1="1111" y1="1921" x2="1111" y2="2045"/>
<line x1="1196" y1="1921" x2="1196" y2="2045"/>
<line x1="1320" y1="1921" x2="1320" y2="2045"/>
</g>
<line x1="1181" y1="1921" x2="1584" y2="1921" stroke="#000" stroke-width="3"/>
<g font-size="14" text-anchor="middle">
<text x="963" y="1943">C</text><text x="1039" y="1943">CONTACT</text><text x="1153" y="1943">2~15 PCS</text><text x="1264" y="1943">Brass</text><text x="1412" y="1943">Sn-plated</text>
<text x="963" y="1974">B</text><text x="1039" y="1974">CONTACT</text><text x="1153" y="1974">2~15 PCS</text><text x="1264" y="1974">Brass</text><text x="1412" y="1974">Sn-plated</text>
<text x="963" y="2006">A</text><text x="1039" y="2006">PEDESTAL</text><text x="1153" y="2006">1 PCS</text><text x="1264" y="2006">PA66</text><text x="1400" y="2008">94-V0</text>
<text x="959" y="2038" font-size="13">ITEM</text><text x="1039" y="2036">COMPONENT</text><text x="1153" y="2038">Q'TY</text><text x="1276" y="2038">MATERIAL</text><text x="1438" y="2033">FINISH</text>
</g>

<!-- TITLE BLOCK -->
<g fill="none" stroke="#000" stroke-width="3">
<line x1="68" y1="2044" x2="1584" y2="2044"/>
<line x1="185" y1="2044" x2="185" y2="2257"/>
<line x1="185" y1="2087" x2="448" y2="2087"/>
<line x1="185" y1="2130" x2="448" y2="2130"/>
<line x1="327" y1="2087" x2="327" y2="2257"/>
<line x1="68" y1="2173" x2="448" y2="2173"/>
<line x1="68" y1="2215" x2="448" y2="2215"/>
<line x1="448" y1="2044" x2="448" y2="2257"/>
<line x1="556" y1="2044" x2="556" y2="2257"/>
<line x1="650" y1="2044" x2="650" y2="2257"/>
<line x1="771" y1="2044" x2="771" y2="2257"/>
<line x1="448" y1="2098" x2="771" y2="2098"/>
<line x1="448" y1="2152" x2="771" y2="2152"/>
<line x1="448" y1="2205" x2="771" y2="2205"/>
<line x1="771" y1="2173" x2="1237" y2="2173"/>
<line x1="1237" y1="2044" x2="1237" y2="2257"/>
<line x1="1237" y1="2130" x2="1584" y2="2130"/>
<line x1="1237" y1="2215" x2="1584" y2="2215"/>
<line x1="1411" y1="2215" x2="1411" y2="2257"/>
</g>
<g fill="none" stroke="#000" stroke-width="1.5">
<circle cx="108" cy="2106" r="10"/><circle cx="108" cy="2106" r="5"/>
<line x1="93" y1="2106" x2="124" y2="2106"/><line x1="108" y1="2090" x2="108" y2="2122"/>
<polygon points="133,2099 165,2090 165,2122 133,2113"/>
<line x1="128" y1="2106" x2="170" y2="2106" stroke-dasharray="6,2,2,2"/>
</g>
<g class="s" font-size="17">
<text x="221" y="2072" textLength="190" lengthAdjust="spacingAndGlyphs">GENERAL TOLERANCES</text>
<text x="221" y="2115" textLength="66" lengthAdjust="spacingAndGlyphs">LINEAR</text>
<text x="355" y="2115" textLength="64" lengthAdjust="spacingAndGlyphs">ANGLES</text>
<text x="204" y="2158" font-size="19" textLength="100" lengthAdjust="spacingAndGlyphs">0.0±0.30</text>
<text x="335" y="2158" font-size="19" textLength="108" lengthAdjust="spacingAndGlyphs">X° REF±6°</text>
<text x="81" y="2200" textLength="90" lengthAdjust="spacingAndGlyphs">UNIT: MM</text>
<text x="200" y="2201" font-size="19" textLength="111" lengthAdjust="spacingAndGlyphs">0.00±0.20</text>
<text x="346" y="2201" font-size="19" textLength="76" lengthAdjust="spacingAndGlyphs">X° ±3°</text>
<text x="81" y="2243" textLength="90" lengthAdjust="spacingAndGlyphs">SIZE: A4</text>
<text x="195" y="2244" font-size="19" textLength="121" lengthAdjust="spacingAndGlyphs">0.000±0.10</text>
<text x="346" y="2244" font-size="19" textLength="92" lengthAdjust="spacingAndGlyphs">X° X'±2°</text>
<text x="454" y="2065" textLength="63" lengthAdjust="spacingAndGlyphs">SCALE:</text>
<text x="509" y="2091" textLength="34" lengthAdjust="spacingAndGlyphs">1:1</text>
<text x="580" y="2078" textLength="45" lengthAdjust="spacingAndGlyphs">NAME</text>
<text x="687" y="2078" textLength="44" lengthAdjust="spacingAndGlyphs">DATE</text>
<text x="461" y="2132" textLength="90" lengthAdjust="spacingAndGlyphs">APPROVED</text>
<text x="461" y="2185" textLength="90" lengthAdjust="spacingAndGlyphs">DESIGNER</text>
<text x="477" y="2240" textLength="56" lengthAdjust="spacingAndGlyphs">DRAWN</text>
<text x="567" y="2242" font-size="20" textLength="71" lengthAdjust="spacingAndGlyphs" style="font-family:'Noto Sans CJK SC',sans-serif">肖坤权</text>
<text x="652" y="2243" font-size="20" textLength="117" lengthAdjust="spacingAndGlyphs">2017.06.16</text>
<text x="781" y="2197" textLength="63" lengthAdjust="spacingAndGlyphs">TITLE:</text>
<text x="783" y="2238" font-size="24" textLength="441" lengthAdjust="spacingAndGlyphs">2.00mmPITCH 180° WAFER DIP TYPE</text>
<text x="1252" y="2070" textLength="84" lengthAdjust="spacingAndGlyphs">PART.NO:</text>
<text x="1252" y="2155" textLength="74" lengthAdjust="spacingAndGlyphs">DWG.NO:</text>
<text x="1245" y="2240" textLength="44" lengthAdjust="spacingAndGlyphs">REV:</text>
<text x="1340" y="2247" font-size="24" textLength="33" lengthAdjust="spacingAndGlyphs">A0</text>
<text x="1419" y="2240" textLength="65" lengthAdjust="spacingAndGlyphs">SHEET:</text>
<text x="1514" y="2247" font-size="24" textLength="45" lengthAdjust="spacingAndGlyphs">1/1</text>
</g>
<text x="1252" y="2118" font-size="29" textLength="262" lengthAdjust="spacingAndGlyphs" style="font-family:'Liberation Mono',monospace">ST-WF-200-004A</text>
<g fill="#2f95e6">
<path d="M788,2056 H852 L846,2070 H808 L806,2075 H840 L833,2098 H781 L786,2086 H820 L822,2081 H790 Z"/>
<path d="M856,2056 H872 L860,2100 H844 Z"/>
<path d="M876,2056 H898 L892,2082 H876 L868,2110 H852 Z M882,2066 L879,2074 H885 L887,2066 Z"/>
</g>
<text x="912" y="2078" font-size="24" textLength="301" lengthAdjust="spacingAndGlyphs" style="font-family:'Noto Serif CJK SC','Noto Sans CJK SC',serif">深圳市思拓展电子有限公司</text>
<text x="913" y="2103" font-size="14" class="s" textLength="294" lengthAdjust="spacingAndGlyphs">SHENZHEN SINOTOP ELECTRONICS CO.,LTD</text>
<g font-size="13" font-weight="bold" style="font-family:'Liberation Mono','Noto Sans CJK SC',monospace">
<text x="795" y="2135" textLength="165" lengthAdjust="spacingAndGlyphs">公司网址：WWW.szsituo.cn</text>
<text x="1034" y="2135" textLength="198" lengthAdjust="spacingAndGlyphs">公司电话：0755-23765350</text>
<text x="795" y="2156" textLength="218" lengthAdjust="spacingAndGlyphs">邮　　箱：2850175982@qq.com</text>
<text x="1034" y="2156" textLength="198" lengthAdjust="spacingAndGlyphs">公司传真：0755-23765341</text>
</g>
</svg>
</body></html>
